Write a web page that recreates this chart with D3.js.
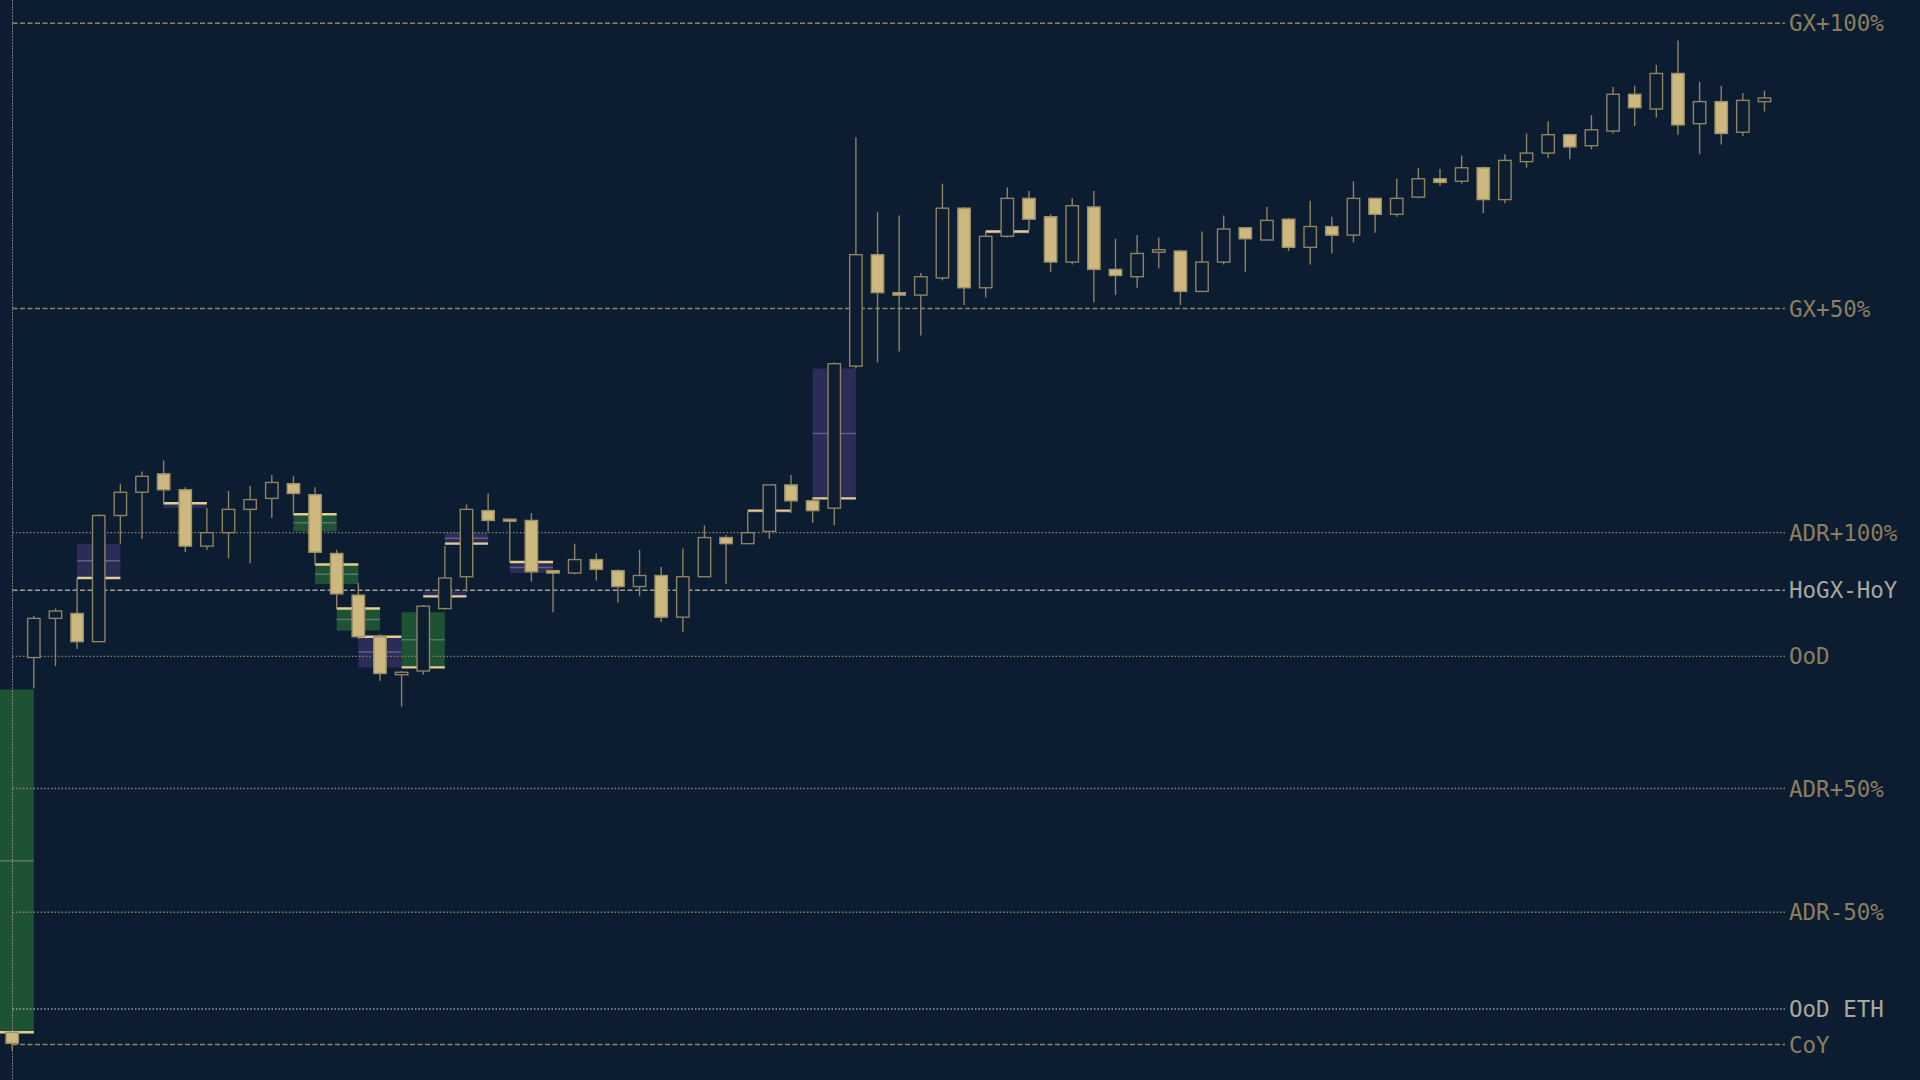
<!DOCTYPE html>
<head>
<meta charset="utf-8">
<script src="https://d3js.org/d3.v7.min.js"></script>
<style>
  *{margin:0;padding:0;}
  html,body{background:#0c1c31;overflow:hidden;}
  text{font-family:'DejaVu Sans Mono',monospace;font-size:22.5px;}
</style>
</head>
<body>
<svg id="chart"></svg>
<script>
// chart readings, in chart units measured from the top (bigger = lower price)
let opens  = [843,537,505,501,524,421,402,387,400,446,435,416,407,395,404,452,486,520,551,548,497,471,417,424,425,466,468,457,466,479,470,504,471,439,444,434,396,409,415,299,208,239,241,227,170,235,193,162,177,214,169,220,226,206,205,238,214,186,196,179,202,185,192,162,175,161,146,148,137,163,132,125,110,119,107,77,89,60,101,83,108,83];
let closes = [852,505,499,524,421,402,389,400,446,435,416,408,394,403,451,485,520,550,549,495,472,416,425,425,467,468,457,465,479,470,504,471,439,444,435,396,409,417,297,208,239,241,226,170,235,193,162,179,214,168,220,225,207,204,238,214,187,195,180,202,185,192,162,175,162,146,149,137,163,131,125,110,120,106,77,88,60,102,83,109,82,80];
let highs  = [843,503,497,472,420,395,385,376,398,415,401,397,388,389,398,449,476,518,548,494,446,412,403,424,419,466,444,452,465,449,463,448,429,437,418,396,388,406,296,112,173,176,223,150,169,189,153,156,175,162,156,195,192,194,204,189,176,186,169,178,164,177,148,162,146,137,138,127,136,126,109,99,109,94,71,70,53,33,67,70,76,74];
let lows   = [858,562,544,530,524,444,440,412,451,449,456,460,423,421,461,497,522,556,577,551,498,483,434,459,475,500,469,474,492,487,508,516,471,477,444,440,419,427,429,301,296,287,274,229,249,243,194,188,222,216,247,241,235,219,249,238,216,222,192,205,216,207,198,190,177,162,152,150,174,166,137,129,130,122,109,103,96,110,126,118,111,91];

// supply / demand zones: bar where it starts, top, bottom, which edge is marked, kind
let zoneStart = [-1, 3, 7, 13, 14, 15, 16, 18, 19, 20, 23, 34, 37, 45];
let zoneTop   = [563, 444, 411, 420, 461, 497, 520, 500, 483, 435, 459, 417, 301, 189];
let zoneBot   = [843, 472, 415, 434, 477, 515, 545, 545, 487, 444, 468, 419, 407, 191];
let zoneEdge  = ['b','b','t','t','t','t','t','b','b','b','t','t','b','t'];
let zoneKind  = ['g','p','p','g','g','g','p','g','p','p','p','p','p','p'];

// horizontal reference levels
let levelNames = ['GX+100%','GX+50%','ADR+100%','HoGX-HoY','OoD','ADR+50%','ADR-50%','OoD ETH','CoY'];
let levelVals  = [19, 252, 435, 482, 536, 644, 745, 824, 853];
let levelDash  = ['dash','dash','dot','dash','dot','dot','dot','dot','dash'];
let levelTone  = ['tan','tan','tan','grey','tan','tan','tan','grey','tan'];

let W = 1920, H = 1080;
let svg = d3.select('#chart').attr('width', W).attr('height', H);

let x = d3.scaleLinear().domain([0, 81]).range([12.2, 1764.5]);
let y = d3.scaleLinear().domain([0, 882]).range([0, H]);
let bw = 12.4;

let tan = '#cdb87f', edge = '#8e8263', grey = '#9c9c98';

// zones
zoneStart.forEach((s, i) => {
    let x0 = Math.max(0, x(s)), x1 = x(s + 2);
    let fill = zoneKind[i] == 'g' ? '#1d5233' : '#2b2c58';
    svg.append('rect').attr('x', x0).attr('y', y(zoneTop[i])).attr('width', x1 - x0)
        .attr('height', y(zoneBot[i]) - y(zoneTop[i])).attr('fill', fill);
    let mid = (zoneTop[i] + zoneBot[i]) / 2;
    if (zoneBot[i] - zoneTop[i] > 6)
        svg.append('line').attr('x1', x0).attr('x2', x1).attr('y1', y(mid)).attr('y2', y(mid))
            .attr('stroke', '#8d8fa0').attr('stroke-opacity', 0.55).attr('stroke-width', 1.5);
    let ey = y(zoneEdge[i] == 't' ? zoneTop[i] : zoneBot[i]);
    svg.append('line').attr('x1', x0).attr('x2', x1).attr('y1', ey).attr('y2', ey)
        .attr('stroke', '#e3cd94').attr('stroke-width', 2.4);
});

// vertical session line
svg.append('line').attr('x1', 12.5).attr('x2', 12.5).attr('y1', 0).attr('y2', H)
    .attr('stroke', grey).attr('stroke-width', 1).attr('stroke-dasharray', '2,1').attr('opacity', 0.7);

// levels
let lx0 = 12.5, lx1 = 1785;
levelVals.forEach((v, i) => {
    let c = levelTone[i] == 'tan' ? '#8c8266' : grey;
    svg.append('line').attr('x1', lx0).attr('x2', lx1).attr('y1', y(v)).attr('y2', y(v))
        .attr('stroke', c).attr('stroke-width', 1.4)
        .attr('stroke-dasharray', levelDash[i] == 'dash' ? '5,2.5' : '1.5,2');
    svg.append('text').attr('x', lx1 + 4).attr('y', y(v)).attr('dy', '0.36em')
        .attr('fill', levelTone[i] == 'tan' ? '#8c7f5e' : '#a8a89c').text(levelNames[i]);
});

// candles
let bars = svg.selectAll('g.bar').data(opens).enter().append('g').attr('class', 'bar');
bars.append('line')
    .attr('x1', (d, i) => x(i)).attr('x2', (d, i) => x(i))
    .attr('y1', (d, i) => y(highs[i])).attr('y2', (d, i) => y(lows[i]))
    .attr('stroke', edge).attr('stroke-width', 1.4);
bars.append('rect')
    .attr('x', (d, i) => x(i) - bw / 2)
    .attr('y', (d, i) => y(Math.min(opens[i], closes[i])))
    .attr('width', bw)
    .attr('height', (d, i) => Math.max(2, y(Math.abs(closes[i] - opens[i])) - y(0)))
    .attr('fill', (d, i) => closes[i] > opens[i] ? tan : '#0c1c31')
    .attr('stroke', (d, i) => closes[i] > opens[i] ? '#9e8f66' : edge)
    .attr('stroke-width', 1.4);
</script>
</body>
